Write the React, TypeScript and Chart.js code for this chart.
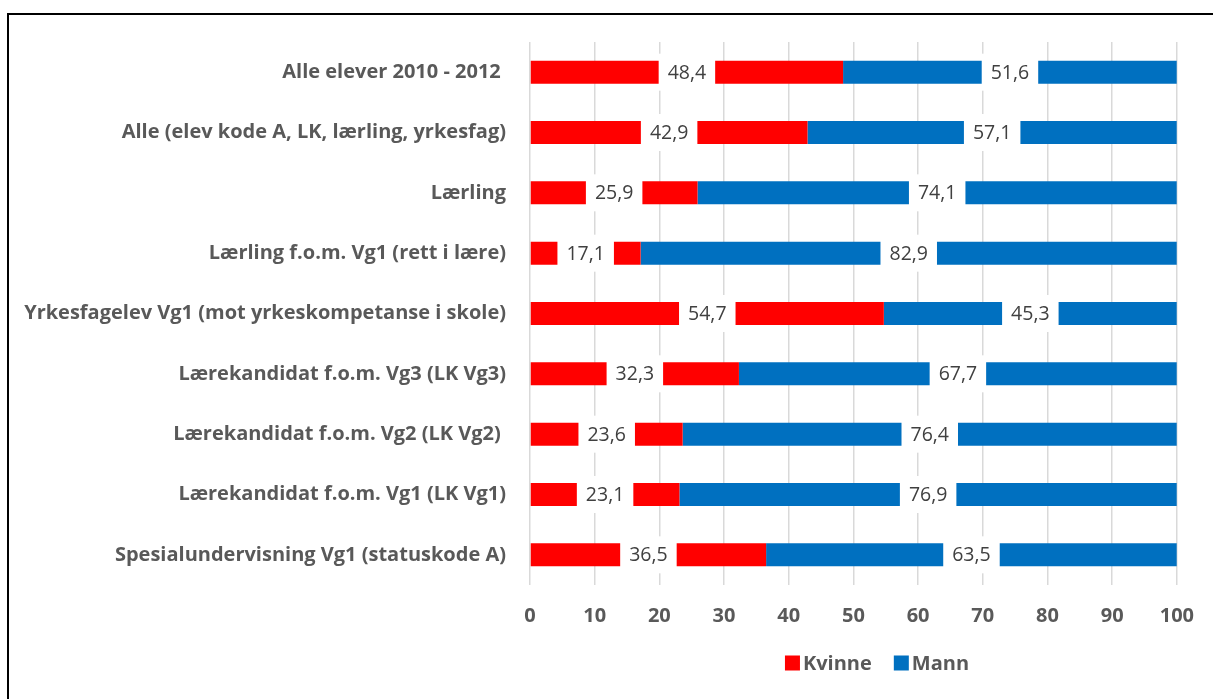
import React, { useEffect, useRef } from "react";
import { Chart, registerables } from "chart.js";

Chart.register(...registerables);

const categories = [
  "Alle elever 2010 - 2012 ",
  "Alle (elev kode A, LK, lærling, yrkesfag)",
  "Lærling",
  "Lærling f.o.m. Vg1 (rett i lære)",
  "Yrkesfagelev Vg1 (mot yrkeskompetanse i skole)",
  "Lærekandidat f.o.m. Vg3 (LK Vg3)",
  "Lærekandidat f.o.m. Vg2 (LK Vg2) ",
  "Lærekandidat f.o.m. Vg1 (LK Vg1)",
  "Spesialundervisning Vg1 (statuskode A)",
];
const kvinne = [48.4, 42.9, 25.9, 17.1, 54.7, 32.3, 23.6, 23.1, 36.5];
const mann = [51.6, 57.1, 74.1, 82.9, 45.3, 67.7, 76.4, 76.9, 63.5];
const seriesNames = ["Kvinne", "Mann"];
const seriesColors = ["#FF0000", "#0070C0"];
const xMin = 0;
const xMax = 100;
const xStep = 10;

const FONT = "'Open Sans', 'Liberation Sans', sans-serif";
const GRAY = "#595959";

const dataLabelPlugin = {
  id: "dataLabelBoxes",
  afterDatasetsDraw(chart: any) {
    const ctx = chart.ctx;
    ctx.save();
    ctx.font = `400 19.5px ${FONT}`;
    ctx.textAlign = "center";
    ctx.textBaseline = "middle";
    chart.data.datasets.forEach((ds: any, di: number) => {
      const meta = chart.getDatasetMeta(di);
      meta.data.forEach((el: any, i: number) => {
        const v = ds.data[i];
        const txt = v.toFixed(1).replace(".", ",");
        const cx = (el.x + el.base) / 2;
        const cy = el.y;
        const w = ctx.measureText(txt).width + 18;
        const h = 37;
        ctx.fillStyle = "#FFFFFF";
        ctx.fillRect(cx - w / 2, cy - h / 2, w, h);
        ctx.fillStyle = "#404040";
        ctx.fillText(txt, cx, cy + 1);
      });
    });
    ctx.restore();
  },
};

const legendPlugin = {
  id: "customLegend",
  afterDraw(chart: any) {
    const ctx = chart.ctx;
    ctx.save();
    ctx.font = `700 20px ${FONT}`;
    ctx.textBaseline = "middle";
    const box = 15;
    const gapBoxText = 3;
    const gapItems = 22;
    const items = chart.data.datasets.map((ds: any) => ({
      label: ds.label,
      color: ds.backgroundColor,
      w: ctx.measureText(ds.label).width,
    }));
    const total =
      items.reduce((s: number, it: any) => s + box + gapBoxText + it.w, 0) +
      gapItems * (items.length - 1);
    const centerX = 877;
    const cy = 663;
    let x = centerX - total / 2;
    items.forEach((it: any) => {
      ctx.fillStyle = it.color;
      ctx.fillRect(x, cy - box / 2, box, box);
      x += box + gapBoxText;
      ctx.fillStyle = GRAY;
      ctx.textAlign = "left";
      ctx.fillText(it.label, x, cy + 1);
      x += it.w + gapItems;
    });
    ctx.restore();
  },
};

function ChartView() {
  const ref = useRef<HTMLCanvasElement | null>(null);
  useEffect(() => {
    if (!ref.current) return;
    const chart = new Chart(ref.current, {
      type: "bar",
      data: {
        labels: categories,
        datasets: [
          {
            label: seriesNames[0],
            data: kvinne,
            backgroundColor: seriesColors[0],
            barPercentage: 0.38,
            categoryPercentage: 1,
          },
          {
            label: seriesNames[1],
            data: mann,
            backgroundColor: seriesColors[1],
            barPercentage: 0.38,
            categoryPercentage: 1,
          },
        ],
      },
      options: {
        indexAxis: "y",
        responsive: false,
        animation: false,
        devicePixelRatio: 1,
        layout: { padding: { left: 0, top: 42, right: 36, bottom: 0 } },
        plugins: {
          legend: { display: false },
          tooltip: { enabled: false },
        },
        scales: {
          x: {
            stacked: true,
            min: xMin,
            max: xMax,
            ticks: {
              stepSize: xStep,
              color: GRAY,
              font: { family: FONT, size: 20, weight: "bold" },
              padding: 19,
            },
            grid: { color: "#D9D9D9", lineWidth: 1.5, drawTicks: false },
            border: { display: false },
            afterFit: (scale: any) => {
              scale.height = 699 - 585;
            },
          },
          y: {
            stacked: true,
            ticks: {
              color: GRAY,
              font: { family: FONT, size: 20, weight: "bold" },
              padding: 24,
              autoSkip: false,
            },
            grid: { display: false, drawTicks: false },
            border: { display: false },
            afterFit: (scale: any) => {
              scale.width = 530;
            },
          },
        },
      },
      plugins: [dataLabelPlugin, legendPlugin],
    } as any);
    return () => chart.destroy();
  }, []);
  return (
    <canvas
      ref={ref}
      width={1213}
      height={699}
      style={{ position: "absolute", left: 0, top: 0, width: 1213, height: 699 }}
    />
  );
}

export default function App() {
  return (
    <div
      style={{
        position: "fixed",
        left: 0,
        top: 0,
        width: 1213,
        height: 699,
        overflow: "hidden",
        background: "#FFFFFF",
      }}
    >
      <div
        style={{
          position: "absolute",
          left: 7,
          top: 13,
          width: 1300,
          height: 800,
          border: "2px solid #000000",
          boxSizing: "border-box",
        }}
      />
      <ChartView />
    </div>
  );
}
